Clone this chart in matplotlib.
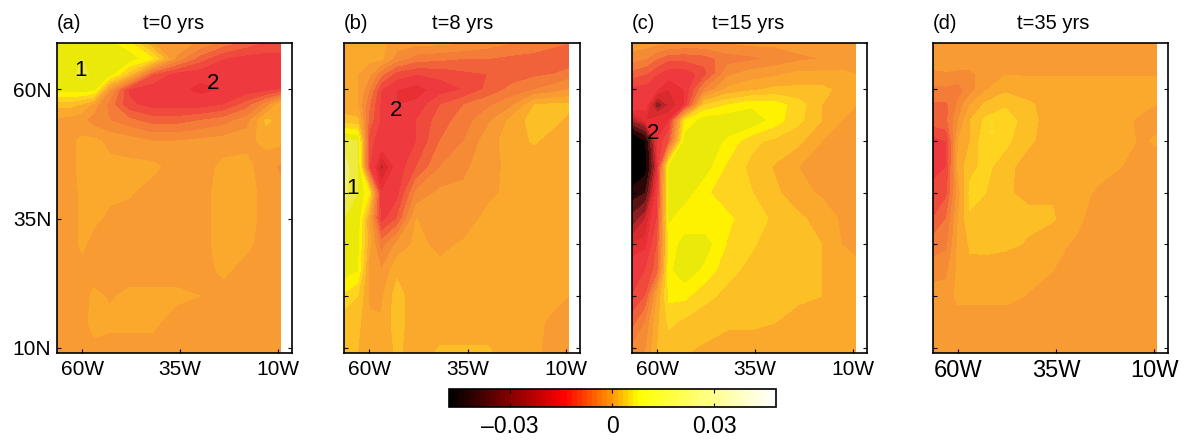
import numpy as np
import matplotlib
matplotlib.use("Agg")
import matplotlib.pyplot as plt
from matplotlib.colors import ListedColormap, BoundaryNorm, LinearSegmentedColormap
from matplotlib.cm import ScalarMappable

plt.rcParams['font.family'] = ['Liberation Sans', 'DejaVu Sans']

lons = [-66.45, -63, -60, -57, -53, -48, -42, -36, -30, -24, -18, -13, -9.3]
lats = [69, 66, 63, 60, 57, 54, 50, 45, 40, 35, 30, 25, 20, 15, 9]

# values in units of 1e-3
field_a = [
 [18, 20, 20, 20, 19, 15, 2, 1, -3, -8, -12, -15, -15],
 [20, 21, 22, 21, 20, 20, 14, -3, -12, -18, -20, -20, -20],
 [20, 21, 23, 21, 20, 8, -14, -20, -21, -21, -21, -21, -20],
 [20, 20, 20, 19, -2, -19, -21, -21, -23, -22, -21, -20, -18],
 [7, 7, 5, 0, -8, -17, -20, -20, -20, -18, -12, -4, 5],
 [1, 0, -1, -4, -6, -9, -12, -12, -10, -8, -4, 7, 4],
 [1, 1, 3, 3, 1, 0, -2, -2, -1, 0, 1, 3, 3],
 [1, 1, 3, 3, 3, 3, 3, 0, 0, 3, 3, 0, -3],
 [0, 0, 3, 3, 3, 2.5, 0, 0, 1, 3, 3, 1, 0],
 [0, 0, 3, 3, 1, 0, 0, 0, 1, 3, 3, 1, 0],
 [0, 0, 3, 0, 0, 0, 0, 0, 1, 3, 3, 0, 0],
 [0, 0, 0, 0, 0, 0, 0, 0, 0, 3, 0, 0, 0],
 [0, 0, 0, 3, 1.5, 3, 3, 3, 2, 0, 0, 0, 0],
 [0, 0, 0, 4, 3, 3, 3, 0, 0, 0, 0, 0, 0],
 [0, 0, 0, 0, 0, 0, 0, 0, 0, 0, 0, 0, 0],
]
field_b = [
 [4, 4, 4, 3, 0, -1, -1, -2, -4, -6, -7, -9, -10],
 [5, 6, 3, 3, -4, -8, -9, -10, -10, -11, -12, -13, -14],
 [3, 2, -1, -9, -16, -18, -17, -15, -14, -12, -11, -10, -8],
 [3, 2, -6, -18, -22, -24, -20, -18, -13, -9, -6, -4, -2],
 [3, 2, -10, -19, -22, -21, -14, -10, -7, -3, 6, 7, 7],
 [8, 7, -12, -19, -21, -18, -12, -8, -3, 3, 8, 7, 5],
 [24, 22, -17, -20, -21, -18, -10, -6, 0, 4, 6.5, 4, 3],
 [26, 23, -18, -27, -21, -14, -6, -3, 0.5, 3, 3, 3, 3],
 [26, 22, 14, -22, -20, -5, -1, -1, 1, 3, 3, 3, 3],
 [22, 21, 2, -20, -14, 2, 0, 0, 3, 3, 3, 3, 3],
 [20, 19, 3, -8, -1, 3, 1, 2.5, 3, 3, 3, 3, 3],
 [20, 18, 0, -2, 5, 4, 3, 3, 3, 3, 3, 3, 3],
 [13, 10, 1, 1, 8, 3, 3, 3, 3, 3, 3, 3, 2],
 [7, 7, 3, 2.5, 8, 3, 3, 3, 3, 3, 3, 1, 0],
 [6, 6, 6, 2, 7, 3, 7, 7, 7, 3, 3, 0, 0],
]
field_c = [
 [0, 0, -1, -2, -3, -3, -2, -1, -1, 0, 0, 0, 0],
 [-4, -6, -10, -13, -13, -12, -8, -7, -5, -3, -2, -1, 0],
 [-12, -14, -18, -21, -21, -16, -3, 0, 1, 3, 3, 3, 2],
 [-20, -20, -22, -24, -22, -6, 3, 5, 7, 7, 7, 5, 3],
 [-20, -21, -30, -26, -22, 10, 14, 17, 16, 12, 6, 3, 2],
 [-28, -24, -22, -22, 14, 20, 21, 21, 16, 11, 6, 2, 1.5],
 [-45, -38, -22, -14, 20, 21, 17, 11, 9, 7, 2, 1, 0],
 [-45, -40, -24, 20, 21, 20, 13, 9, 5.5, 2, 1, 0.5, 1],
 [-36, -34, -20, 19, 20, 15, 11, 10.2, 7, 3, 1.5, 1, 1],
 [-30, -26, -18, 18.5, 15, 15, 15, 11, 9.6, 7, 4, 1.5, 1],
 [-24, -23, -14, 15, 20, 20, 13.5, 10.5, 8, 7, 6, 2, 1],
 [-20, -18, -12, 17, 20.5, 17, 11, 9, 7.5, 6.5, 6, 3, 3],
 [-18, -14, 2, 15, 15, 11, 9, 8, 7.5, 7, 6, 3, 3],
 [-12, -6, 5, 11, 9, 8, 7, 7, 6.1, 4, 3, 3, 3],
 [-4, -2, 6, 7, 6.2, 5, 3, 3, 3, 3, 3, 3, 3],
]
field_d = [
 [0, 0, 0, 0, 0, 0, 0, 0, 0, 0, 0, 0, 0],
 [0.5, 0.5, 0.5, 0.5, 0.5, 0.5, 0.5, 0.5, 0.5, 0.5, 0.5, 0.5, 0.5],
 [-3, -2.5, -3, -3, 0, 1.8, 1.8, 1.8, 1.8, 1.8, 1.8, 1.8, 1.8],
 [-7, -7, -8, -4, 1.5, 5, 3, 3, 3, 3, 3, 3, 3],
 [-11, -11, -5, 2, 7, 9.5, 7, 3, 3, 3, 3, 3, 1.9],
 [-12, -11, -2, 6, 11, 12, 8, 3, 3, 3, 3, 1, 1],
 [-20, -18, 2, 6, 13, 11, 7, 3, 3, 3, 3, 1.5, 2.5],
 [-20, -18, 3, 9, 11, 8, 3, 3, 3, 3, 1.9, 0, 0],
 [-16, -15, 0, 11, 10, 6.5, 5, 5.5, 3, 1.5, 0, 0, 0],
 [-14, -10, 2, 9.5, 7, 7, 7, 6.5, 3, 0, 0, 0, 0],
 [-8, -7, 3, 6.5, 7, 7, 5.5, 3, 1.5, 0, 0, 0, 0],
 [-4, -3, 3, 5, 4.5, 3, 3, 2.1, 0, 0, 0, 0, 0],
 [0, 0, 3, 3, 3, 3, 1.8, 0, 0, 0, 0, 0, 0],
 [0, 0, 0, 0, 0, 0, 0, 0, 0, 0, 0, 0, 0],
 [0, 0, 0, 0, 0, 0, 0, 0, 0, 0, 0, 0, 0],
]

panel_tags = ['(a)', '(b)', '(c)', '(d)']
panel_times = ['t=0 yrs', 't=8 yrs', 't=15 yrs', 't=35 yrs']
lon_ticks = [-60, -35, -10]
lon_labels = ['60W', '35W', '10W']
lat_ticks_a = [60, 35, 10]
lat_labels_a = ['60N', '35N', '10N']
lat_ticks_rest = [60, 50, 40, 30, 20, 10]
cbar_ticks = [-0.03, 0, 0.03]
cbar_labels = ['\u20130.03', '0', '0.03']

levels = [-60, -38, -34, -31, -28, -26, -24, -22, -18, -14, -10, -6, -2,
          2, 6, 10, 14, 18, 22, 25, 60]
colors = ['#000000', '#2a0606', '#5a1212', '#8a1e20', '#b82428', '#d92a2e', '#e92f33',
          '#ee3a3e', '#ef4a3c', '#f2623a', '#f47b38', '#f58c35', '#f89b32',
          '#fba92d', '#fdbf26', '#ffd420', '#fff200', '#ebe90a', '#efea40', '#f2ee78']

W, H = 1184, 441
fig = plt.figure(figsize=(W / 100, H / 100), dpi=100, facecolor='white')
cmap = ListedColormap(colors)
norm = BoundaryNorm(levels, cmap.N)

panels = [(57, 235, field_a, 0.366), (344, 236, field_b, 0.373),
          (632, 235, field_c, 0.34), (933, 235, field_d, 0.357)]
notes = [
    [('1', -60.5, 63.7, 'black', 16), ('2', -26.6, 61.2, 'black', 16)],
    [('2', -53.1, 55.9, 'black', 16), ('1', -64.3, 40.9, 'black', 16)],
    [('2', -61.0, 51.5, 'black', 16)],
    [('1', -51.6, 52.5, '#f5e030', 12)],
]
for i, (left, width, field, tx) in enumerate(panels):
    ax = fig.add_axes([left / W, (H - 353) / H, width / W, 310 / H])
    ax.contourf(lons, lats, np.array(field, float), levels=levels, cmap=cmap, norm=norm)
    ax.set_xlim(-66.45, -6.45)
    ax.set_ylim(9, 69)
    ax.set_xticks(lon_ticks)
    ax.set_xticklabels(lon_labels, fontsize=17 if i == 3 else 15)
    if i == 0:
        ax.set_yticks(lat_ticks_a)
        ax.set_yticklabels(lat_labels_a, fontsize=15)
    else:
        ax.set_yticks(lat_ticks_rest)
        ax.set_yticklabels([])
    ax.tick_params(direction='in', length=3, width=0.8, left=True, right=True, bottom=True, top=False, pad=5)
    ax.tick_params(axis='y', pad=4)
    for s in ax.spines.values():
        s.set_linewidth(1.2)
    ax.text(0.0, 1.032, panel_tags[i], transform=ax.transAxes, fontsize=14.5, ha='left', va='bottom')
    ax.text(tx, 1.032, panel_times[i], transform=ax.transAxes, fontsize=14.5, ha='left', va='bottom')
    for txt, x, y, c, fs in notes[i]:
        ax.text(x, y, txt, color=c, fontsize=fs, ha='center', va='center')

bar_cmap = LinearSegmentedColormap.from_list(
    'bar', [(0, '#000000'), (0.35, '#ff0000'), (0.5, '#ff9a00'), (0.58, '#ffff00'), (1, '#ffffff')], N=64)
cax = fig.add_axes([449 / W, (H - 407) / H, 327 / W, 18 / H])
sm = ScalarMappable(cmap=bar_cmap, norm=plt.Normalize(-0.048, 0.0482))
cb = fig.colorbar(sm, cax=cax, orientation='horizontal')
cb.set_ticks(cbar_ticks)
cb.set_ticklabels(cbar_labels, fontsize=16.5)
cax.tick_params(direction='in', length=3, width=0.8, bottom=True, top=True, pad=6)
cb.outline.set_linewidth(1.2)

fig.savefig('out.png', dpi=100)
